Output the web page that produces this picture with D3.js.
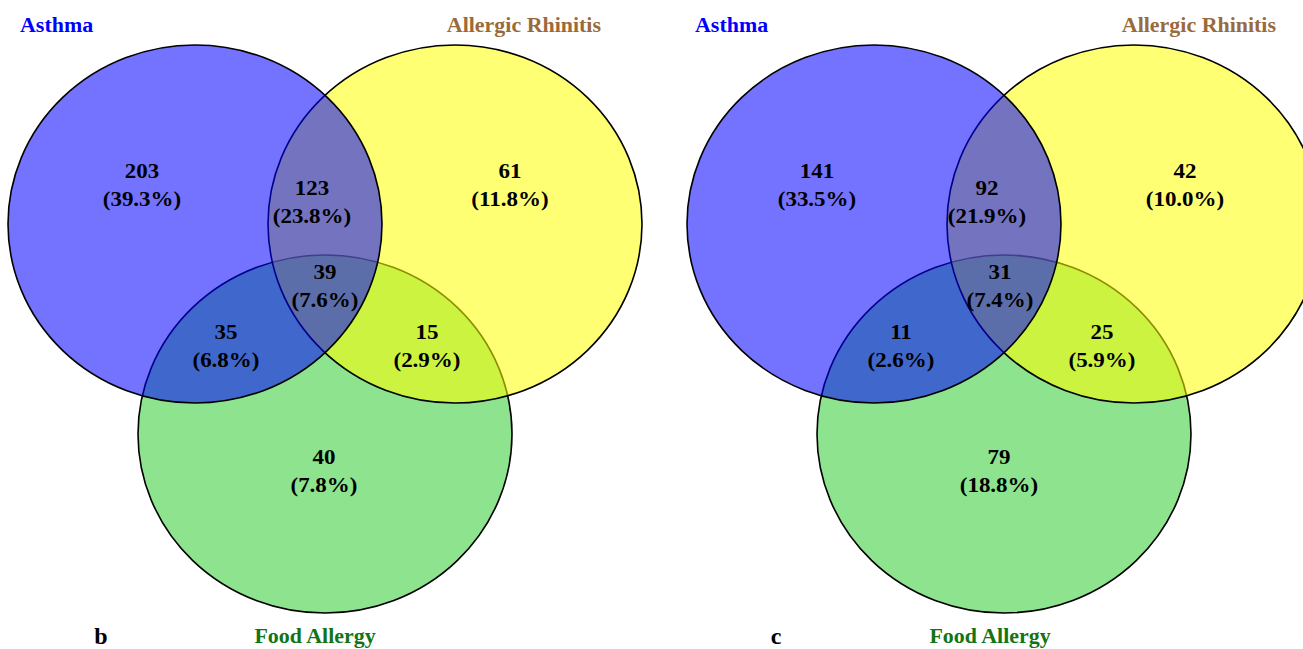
<!DOCTYPE html>
<html>
<head>
<meta charset="utf-8">
<script src="https://cdn.jsdelivr.net/npm/d3@7"></script>
<style>
  html, body { margin: 0; padding: 0; background: #ffffff; }
  svg { display: block; }
</style>
</head>
<body>
<svg id="chart" width="1303" height="649"></svg>
<script>
// ---- data ----
const setNames = ["Asthma", "Allergic Rhinitis", "Food Allergy"];
const regionKeys = ["A", "R", "AR", "ARF", "AF", "RF", "F"];
const countsB = [203, 61, 123, 39, 35, 15, 40];
const percentsB = ["39.3%", "11.8%", "23.8%", "7.6%", "6.8%", "2.9%", "7.8%"];
const countsC = [141, 42, 92, 31, 11, 25, 79];
const percentsC = ["33.5%", "10.0%", "21.9%", "7.4%", "2.6%", "5.9%", "18.8%"];
const panelLetters = ["b", "c"];

// ---- layout / style ----
const W = 1303, H = 649;
const circleOffsets = [0, 679];
const labelOffsets = [0, 675];
const rx = 187, ry = 179;
const sx = 1.045; // horizontal stretch of the figure
const circles = [ // drawing order: Food Allergy bottom, then Rhinitis, then Asthma
  { set: 2, cx: 325, cy: 434, fill: "#32cd32" },
  { set: 1, cx: 455, cy: 224, fill: "#ffff00" },
  { set: 0, cx: 195, cy: 224, fill: "#0000ff" }
];
const regionPos = {
  A: [142, 170], R: [510, 170], AR: [312, 187], ARF: [325, 271],
  AF: [226, 331], RF: [427, 331], F: [324, 456]
};
const catLabels = [
  { set: 0, x: 20, y: 32, anchor: "start", color: "#0000ff" },
  { set: 1, x: 601, y: 32, anchor: "end", color: "#9b6a3a" },
  { set: 2, x: 315, y: 643, anchor: "middle", color: "#137413" }
];
const letterPos = [101, 644];
const fontFamily = "'Liberation Serif', 'Times New Roman', serif";

const svg = d3.select("#chart");
const panels = [
  { counts: countsB, percents: percentsB, letter: panelLetters[0] },
  { counts: countsC, percents: percentsC, letter: panelLetters[1] }
];

panels.forEach((p, i) => {
  const gc = svg.append("g").attr("transform", `translate(${circleOffsets[i]},0)`);
  gc.selectAll("ellipse")
    .data(circles)
    .join("ellipse")
    .attr("cx", d => d.cx)
    .attr("cy", d => d.cy)
    .attr("rx", rx)
    .attr("ry", ry)
    .attr("fill", d => d.fill)
    .attr("fill-opacity", 0.55)
    .attr("stroke", "#000")
    .attr("stroke-width", 1.6);

  const g = svg.append("g").attr("transform", `translate(${labelOffsets[i]},0)`);
  const regions = regionKeys.map((k, j) => ({ key: k, count: p.counts[j], pct: p.percents[j] }));
  const lab = g.selectAll("g.region")
    .data(regions)
    .join("g")
    .attr("class", "region")
    .attr("transform", d => `translate(${regionPos[d.key][0]},${regionPos[d.key][1]}) scale(${sx},1)`);
  lab.append("text")
    .attr("text-anchor", "middle")
    .attr("dy", "0.35em")
    .attr("font-family", fontFamily)
    .attr("font-weight", "bold")
    .attr("font-size", 22)
    .attr("fill", "#000")
    .text(d => d.count);
  lab.append("text")
    .attr("text-anchor", "middle")
    .attr("y", 28)
    .attr("dy", "0.35em")
    .attr("font-family", fontFamily)
    .attr("font-weight", "bold")
    .attr("font-size", 22)
    .attr("fill", "#000")
    .text(d => `(${d.pct})`);

  g.selectAll("text.cat")
    .data(catLabels)
    .join("text")
    .attr("class", "cat")
    .attr("transform", d => `translate(${d.x},${d.y}) scale(${sx},1)`)
    .attr("text-anchor", d => d.anchor)
    .attr("font-family", fontFamily)
    .attr("font-weight", "bold")
    .attr("font-size", 21)
    .attr("fill", d => d.color)
    .text(d => setNames[d.set]);

  g.append("text")
    .attr("transform", `translate(${letterPos[0]},${letterPos[1]}) scale(${sx},1)`)
    .attr("text-anchor", "middle")
    .attr("font-family", fontFamily)
    .attr("font-weight", "bold")
    .attr("font-size", 23)
    .attr("fill", "#000")
    .text(p.letter);
});
</script>
</body>
</html>
